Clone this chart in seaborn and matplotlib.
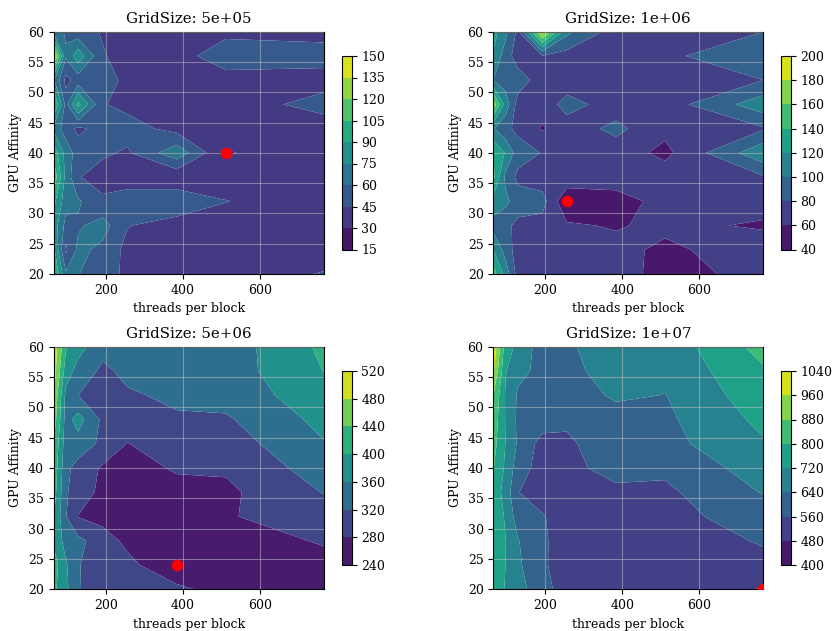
import numpy as np
import matplotlib
matplotlib.use("Agg")
import matplotlib.pyplot as plt
import seaborn as sns

# Sweep axes
threads_per_block = [64, 96, 128, 192, 256, 384, 512, 768]
gpu_affinity = [20, 24, 28, 32, 36, 40, 44, 48, 52, 56, 60]

grid_sizes = [5e5, 1e6, 5e6, 1e7]

# Timings, one row per affinity value (20 -> 60), one column per threads-per-block value
time_5e5 = [
    [110, 62, 60.5, 52, 41.7, 37, 37, 46],
    [95, 42, 64, 56, 40.7, 37, 36, 38],
    [85, 55, 58, 66, 45.7, 38, 36, 35],
    [95, 66, 62, 48, 50, 57, 45.5, 35],
    [118, 70, 46, 38, 40, 33, 36, 35],
    [100, 70, 52, 47.5, 43, 70, 29, 38],
    [72, 52, 42, 50, 51, 40, 38, 38],
    [110, 55, 95, 46, 41, 38, 38, 50],
    [78, 40, 52, 52, 41, 39, 40, 40],
    [145, 62, 85, 46, 40, 40, 52, 50],
    [70, 58, 50, 44, 40, 38, 42, 41],
]

time_1e6 = [
    [150, 112, 72, 70, 70, 72, 50, 69],
    [120, 92, 70, 70, 68, 67, 55, 74],
    [92, 85, 75, 72, 63, 58, 65.5, 57],
    [112, 105, 90, 88, 42, 50, 68, 70],
    [145, 95, 75, 68, 75, 72, 70, 78],
    [140, 118, 90, 79, 70, 70, 55, 115],
    [102, 85, 75, 58, 70, 85, 65, 78],
    [172, 112, 72, 68, 88, 70, 70, 112],
    [100, 90, 90, 70, 68, 70, 72, 80],
    [118, 90, 70, 79, 72, 70, 76, 95],
    [128, 105, 75, 190, 105, 70, 72, 80],
]

time_5e6 = [
    [410, 370, 322, 305, 318, 290, 262, 268],
    [420, 365, 322, 300, 292, 245, 260, 270],
    [395, 345, 330, 300, 270, 250, 265, 283],
    [405, 322, 279, 265, 260, 255, 277, 300],
    [420, 325, 300, 270, 258, 265, 272, 322],
    [430, 330, 305, 275, 262, 285, 285, 340],
    [440, 340, 345, 310, 279, 300, 300, 358],
    [465, 345, 375, 312, 300, 315, 315, 372],
    [482, 350, 320, 300, 315, 328, 335, 385],
    [505, 380, 345, 312, 330, 335, 340, 401],
    [510, 405, 375, 332, 335, 340, 338, 409],
]

time_1e7 = [
    [760, 715, 680, 575, 540, 515, 520, 475],
    [770, 720, 655, 566, 540, 515, 525, 545],
    [775, 722, 645, 568, 535, 520, 530, 565],
    [780, 710, 600, 565, 530, 525, 540, 590],
    [770, 690, 562, 530, 525, 535, 545, 645],
    [805, 705, 600, 525, 530, 600, 575, 680],
    [830, 718, 630, 530, 545, 615, 615, 712],
    [850, 715, 625, 600, 575, 600, 625, 740],
    [880, 712, 630, 600, 590, 655, 638, 770],
    [970, 725, 660, 620, 615, 680, 660, 790],
    [1030, 760, 700, 600, 630, 680, 670, 830],
]

# Contour levels (also the colorbar ticks)
levels_5e5 = [15, 30, 45, 60, 75, 90, 105, 120, 135, 150]
levels_1e6 = [40, 60, 80, 100, 120, 140, 160, 180, 200]
levels_5e6 = [240, 280, 320, 360, 400, 440, 480, 520]
levels_1e7 = [400, 480, 560, 640, 720, 800, 880, 960, 1040]

timings = [time_5e5, time_1e6, time_5e6, time_1e7]
level_sets = [levels_5e5, levels_1e6, levels_5e6, levels_1e7]

sns.set_theme(style="ticks")
plt.rcParams.update({
    "font.family": ["DejaVu Serif"],
    "font.size": 9,
    "axes.titlesize": 10.8,
    "axes.labelsize": 9,
    "xtick.labelsize": 9,
    "ytick.labelsize": 9,
    "axes.edgecolor": "black",
    "axes.linewidth": 0.8,
    "xtick.color": "black",
    "ytick.color": "black",
    "axes.labelcolor": "black",
    "text.color": "black",
    "xtick.major.size": 3.5,
    "ytick.major.size": 3.5,
    "xtick.major.width": 0.8,
    "ytick.major.width": 0.8,
})

W, H = 835, 631
fig = plt.figure(figsize=(W / 100, H / 100), dpi=100)

# pixel boxes: (left, top, right, bottom)
axes_boxes = [
    (53.5, 31.7, 324.3, 274.0),
    (493.3, 31.7, 763.3, 274.0),
    (53.5, 346.7, 324.3, 589.3),
    (493.3, 346.7, 763.3, 589.3),
]
cbar_boxes = [
    (341.7, 56.0, 351.7, 249.5),
    (780.7, 56.0, 790.7, 249.5),
    (341.7, 371.0, 351.7, 565.0),
    (780.7, 371.0, 790.7, 565.0),
]


def frac(box):
    l, t, r, b = box
    return [l / W, 1 - b / H, (r - l) / W, (b - t) / H]


cmap = sns.color_palette("viridis", as_cmap=True)
X, Y = np.meshgrid(threads_per_block, gpu_affinity)

for gs, z, lv, abox, cbox in zip(grid_sizes, timings, level_sets, axes_boxes, cbar_boxes):
    ax = fig.add_axes(frac(abox))
    cax = fig.add_axes(frac(cbox))
    Z = np.array(z, dtype=float)

    cs = ax.contourf(X, Y, Z, levels=lv, cmap=cmap, antialiased=True)

    # best configuration marker
    iy, ix = np.unravel_index(np.argmin(Z), Z.shape)
    sns.scatterplot(x=[threads_per_block[ix]], y=[gpu_affinity[iy]], color="red",
                    s=70, linewidth=0, ax=ax, zorder=5, legend=False)

    ax.set_xlim(threads_per_block[0], threads_per_block[-1])
    ax.set_ylim(gpu_affinity[0], gpu_affinity[-1])
    ax.set_xticks([200, 400, 600])
    ax.set_yticks(np.arange(20, 61, 5))
    ax.grid(True, color="#c8c8c8", linewidth=0.8, alpha=0.5)
    ax.set_axisbelow(False)
    for sp in ax.spines.values():
        sp.set_visible(True)
        sp.set_color("black")
        sp.set_linewidth(0.8)

    ax.set_title(f"GridSize: {gs:.0e}")
    ax.set_xlabel("threads per block")
    ax.set_ylabel("GPU Affinity")

    cb = fig.colorbar(cs, cax=cax, ticks=lv)
    cb.outline.set_linewidth(0.8)
    cb.outline.set_edgecolor("black")
    cax.tick_params(labelsize=9, length=3.5, width=0.8)

fig.savefig("out.png", dpi=100)
